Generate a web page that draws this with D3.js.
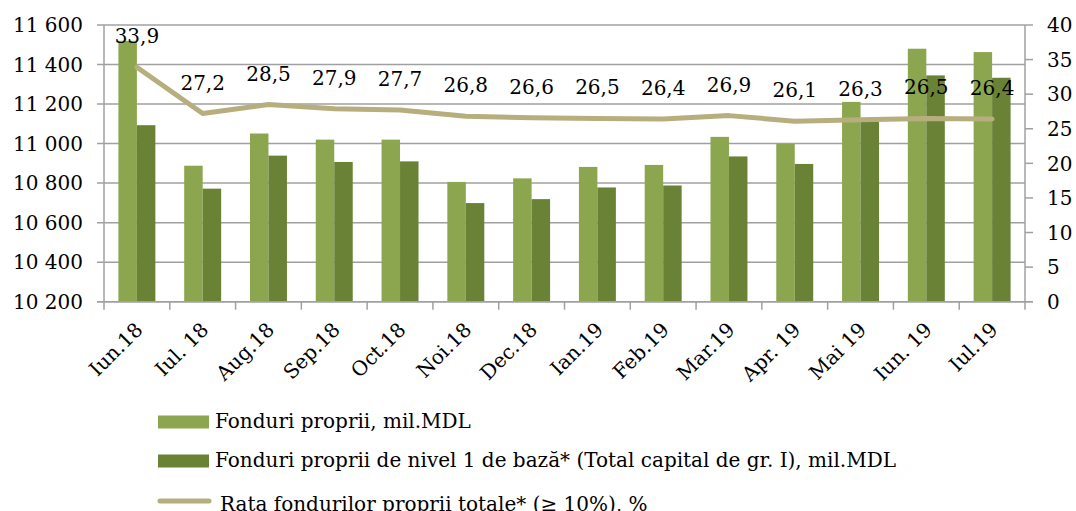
<!DOCTYPE html>
<html>
<head>
<meta charset="utf-8">
<script src="https://cdn.jsdelivr.net/npm/d3@7"></script>
<style>
  body { margin: 0; background: #fff; }
  text { font-family: "DejaVu Serif", serif; fill: #000; font-size: 20px; }
</style>
</head>
<body>
<script>
// Chart data
const months = ['Iun.18', 'Iul. 18', 'Aug.18', 'Sep.18', 'Oct.18', 'Noi.18', 'Dec.18',
  'Ian.19', 'Feb.19', 'Mar.19', 'Apr. 19', 'Mai 19', 'Iun. 19', 'Iul.19'];
const ownFunds = [11520, 10888, 11051, 11020, 11020, 10806, 10824, 10882, 10892, 11034, 10998, 11211, 11480, 11463];
const tier1 = [11093, 10772, 10939, 10907, 10910, 10699, 10719, 10778, 10788, 10935, 10897, 11113, 11345, 11333];
const ratio = [33.9, 27.2, 28.5, 27.9, 27.7, 26.8, 26.6, 26.5, 26.4, 26.9, 26.1, 26.3, 26.5, 26.4];
const leftTicks = [10200, 10400, 10600, 10800, 11000, 11200, 11400, 11600];
const rightTicks = [0, 5, 10, 15, 20, 25, 30, 35, 40];
const seriesNames = [
  'Fonduri proprii, mil.MDL',
  'Fonduri proprii de nivel 1 de bază* (Total capital de gr. I), mil.MDL',
  'Rata fondurilor proprii totale* (≥ 10%), %'
];

const width = 1076;
const height = 511;
const plotLeft = 104, plotRight = 1025, plotTop = 25, plotBottom = 301.7;
const colLight = '#8ba64e';
const colDark = '#6a8236';
const colLine = '#b7ae7e';
const colGrid = '#a0a0a0';

const ro = d3.formatLocale({ decimal: ',', thousands: ' ', grouping: [3], currency: ['', ''] });
const fmtThousands = ro.format(',');
const fmtRatio = ro.format('.1f');

const svg = d3.select('body')
  .append('svg')
  .attr('width', width)
  .attr('height', height);

const x = d3.scaleBand()
  .domain(months)
  .range([plotLeft, plotRight]);

const inner = d3.scaleBand()
  .domain([0, 1])
  .range([0, x.bandwidth()])
  .paddingInner(0)
  .paddingOuter(0.78);

const yL = d3.scaleLinear().domain([10200, 11600]).range([plotBottom, plotTop]);
const yR = d3.scaleLinear().domain([0, 40]).range([plotBottom, plotTop]);

// gridlines + left ticks
svg.append('g')
  .selectAll('line')
  .data(leftTicks)
  .enter()
  .append('line')
  .attr('x1', plotLeft - 7)
  .attr('x2', plotRight)
  .attr('y1', d => yL(d))
  .attr('y2', d => yL(d))
  .attr('stroke', colGrid)
  .attr('stroke-width', 1.5);

// right ticks
svg.append('g')
  .selectAll('line')
  .data(rightTicks)
  .enter()
  .append('line')
  .attr('x1', plotRight)
  .attr('x2', plotRight + 8)
  .attr('y1', d => yR(d))
  .attr('y2', d => yR(d))
  .attr('stroke', colGrid)
  .attr('stroke-width', 1.5);

// bars
const groups = svg.append('g')
  .selectAll('g')
  .data(months)
  .enter()
  .append('g')
  .attr('transform', d => `translate(${x(d)},0)`);

groups.append('rect')
  .attr('x', inner(0))
  .attr('width', inner.bandwidth())
  .attr('y', (d, i) => yL(ownFunds[i]))
  .attr('height', (d, i) => plotBottom - yL(ownFunds[i]))
  .attr('fill', colLight);

groups.append('rect')
  .attr('x', inner(1))
  .attr('width', inner.bandwidth())
  .attr('y', (d, i) => yL(tier1[i]))
  .attr('height', (d, i) => plotBottom - yL(tier1[i]))
  .attr('fill', colDark);

// axis lines
svg.append('line')
  .attr('x1', plotLeft).attr('x2', plotLeft)
  .attr('y1', plotTop).attr('y2', plotBottom)
  .attr('stroke', colGrid).attr('stroke-width', 1.5);
svg.append('line')
  .attr('x1', plotRight).attr('x2', plotRight)
  .attr('y1', plotTop).attr('y2', plotBottom)
  .attr('stroke', colGrid).attr('stroke-width', 1.5);
svg.append('line')
  .attr('x1', plotLeft - 7).attr('x2', plotRight + 8)
  .attr('y1', plotBottom).attr('y2', plotBottom)
  .attr('stroke', colGrid).attr('stroke-width', 1.5);

// bottom ticks at category boundaries
svg.append('g')
  .selectAll('line')
  .data(months.concat(['end']))
  .enter()
  .append('line')
  .attr('x1', (d, i) => plotLeft + i * x.step())
  .attr('x2', (d, i) => plotLeft + i * x.step())
  .attr('y1', plotBottom)
  .attr('y2', plotBottom + 8)
  .attr('stroke', colGrid)
  .attr('stroke-width', 1.5);

// ratio line
const line = d3.line()
  .x((d, i) => x(months[i]) + x.bandwidth() / 2)
  .y(d => yR(d));

svg.append('path')
  .datum(ratio)
  .attr('d', line)
  .attr('fill', 'none')
  .attr('stroke', colLine)
  .attr('stroke-width', 5)
  .attr('stroke-linejoin', 'round')
  .attr('stroke-linecap', 'round');

// data labels
svg.append('g')
  .selectAll('text')
  .data(ratio)
  .enter()
  .append('text')
  .attr('x', (d, i) => x(months[i]) + x.bandwidth() / 2)
  .attr('y', d => yR(d) - 24)
  .attr('text-anchor', 'middle')
  .text(d => fmtRatio(d));

// left axis labels
svg.append('g')
  .selectAll('text')
  .data(leftTicks)
  .enter()
  .append('text')
  .attr('x', 83)
  .attr('y', d => yL(d))
  .attr('dy', '0.36em')
  .attr('text-anchor', 'end')
  .text(d => fmtThousands(d));

// right axis labels
svg.append('g')
  .selectAll('text')
  .data(rightTicks)
  .enter()
  .append('text')
  .attr('x', 1047)
  .attr('y', d => yR(d))
  .attr('dy', '0.36em')
  .text(d => d);

// x labels
svg.append('g')
  .selectAll('text')
  .data(months)
  .enter()
  .append('text')
  .attr('transform', d => `translate(${x(d) + x.bandwidth() / 2 + 7},331) rotate(-45)`)
  .attr('text-anchor', 'end')
  .text(d => d);

// legend
const legend = svg.append('g');
const legendRows = [
  { y: 422, type: 'rect', color: colLight },
  { y: 461, type: 'rect', color: colDark },
  { y: 501, type: 'line', color: colLine }
];

legendRows.forEach((r, i) => {
  if (r.type === 'rect') {
    legend.append('rect')
      .attr('x', 158).attr('y', r.y - 6.5)
      .attr('width', 51).attr('height', 13)
      .attr('fill', r.color);
  } else {
    legend.append('line')
      .attr('x1', 160).attr('x2', 209)
      .attr('y1', r.y).attr('y2', r.y)
      .attr('stroke', r.color)
      .attr('stroke-width', 5)
      .attr('stroke-linecap', 'round');
  }
  legend.append('text')
    .attr('x', r.type === 'rect' ? 215 : 220)
    .attr('y', r.y)
    .attr('dy', r.type === 'rect' ? '0.32em' : '0.5em')
    .text(seriesNames[i]);
});
</script>
</body>
</html>
